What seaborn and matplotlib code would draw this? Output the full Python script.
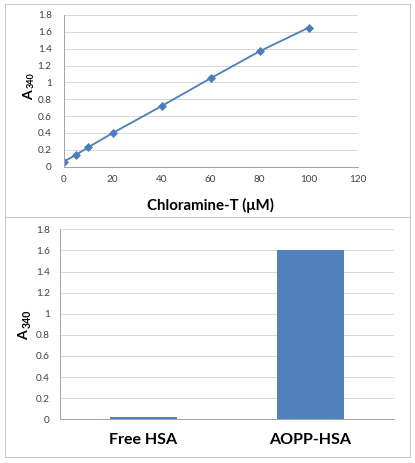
import matplotlib
matplotlib.use("Agg")
import matplotlib.pyplot as plt
import seaborn as sns
import pandas as pd
from matplotlib.patches import Rectangle
from matplotlib.lines import Line2D
from matplotlib.transforms import Affine2D

# ---- data ----
chloramine_t = [0, 5, 10, 20, 40, 60, 80, 100]
a340_curve = [0.06, 0.14, 0.23, 0.40, 0.72, 1.05, 1.37, 1.65]
categories = ["Free HSA", "AOPP-HSA"]
a340_bars = [0.025, 1.60]
y_ticks = [0, 0.2, 0.4, 0.6, 0.8, 1, 1.2, 1.4, 1.6, 1.8]
y_tick_labels = ["0", "0.2", "0.4", "0.6", "0.8", "1", "1.2", "1.4", "1.6", "1.8"]
x_ticks = [0, 20, 40, 60, 80, 100, 120]

sns.set_theme(style="white")
plt.rcParams['font.family'] = ['Lato', 'DejaVu Sans']

W, H = 415, 463
DPI = 72
fig = plt.figure(figsize=(W / DPI, H / DPI), dpi=DPI)
fig.patch.set_facecolor("white")
pix = Affine2D().scale(1, -1).translate(0, H)  # pixel coords, origin top-left

def fx(px):
    return px / W

def fy(py):
    return 1 - py / H

# frame
border = "#C8C8C8"
fig.add_artist(Rectangle((fx(5), fy(457)), fx(405), (457 - 4) / H, transform=fig.transFigure,
                         fill=False, edgecolor=border, linewidth=1))
fig.add_artist(Line2D([fx(5), fx(410)], [fy(217), fy(217)], transform=fig.transFigure,
                      color=border, linewidth=1))

grid_c = "#D9D9D9"
axis_c = "#A6A6A6"
tick_txt = "#404040"
line_c = "#4A7EBB"
bar_c = "#4F81BD"

def a340_label(xa, ya, xs, ys, fa, fs):
    kw = dict(transform=pix, rotation=90, rotation_mode="anchor", ha="left",
              va="baseline", fontweight="bold", color="black", family="Lato")
    fig.text(xa, ya, "A", fontsize=fa, **kw)
    fig.text(xs, ys, "340", fontsize=fs, **kw)

# ---- top chart ----
ax1 = fig.add_axes([fx(63.7), fy(166.7), fx(357.7 - 63.7), (166.7 - 15) / H])
df1 = pd.DataFrame({"x": chloramine_t, "y": a340_curve})
sns.lineplot(data=df1, x="x", y="y", ax=ax1, color=line_c, linewidth=1.8,
             marker="D", markersize=5.5, markeredgecolor=line_c, markerfacecolor=line_c)
ax1.set_xlim(0, 120)
ax1.set_ylim(0, 1.8)
ax1.set_xticks(x_ticks)
ax1.set_yticks(y_ticks)
ax1.set_yticklabels(y_tick_labels)
ax1.grid(axis="y", color=grid_c, linewidth=1)
ax1.set_axisbelow(True)
for s in ["top", "right"]:
    ax1.spines[s].set_visible(False)
for s in ["left", "bottom"]:
    ax1.spines[s].set_color(axis_c)
    ax1.spines[s].set_linewidth(1)
ax1.tick_params(axis="both", which="major", direction="out", length=4, width=1,
                color=axis_c, labelsize=10, labelcolor=tick_txt)
ax1.tick_params(axis="y", pad=8)
ax1.tick_params(axis="x", pad=4)
ax1.set_xlabel("Chloramine-T (μM)", fontsize=15, fontweight="bold", color="black")
ax1.xaxis.set_label_coords(0.5, -0.206)
ax1.set_ylabel("")
a340_label(32.7, 99.5, 33.7, 87.5, 14, 9)

# ---- bottom chart ----
ax2 = fig.add_axes([fx(60), fy(419.3), fx(394 - 60), (419.3 - 229.3) / H])
df2 = pd.DataFrame({"cat": categories, "val": a340_bars})
sns.barplot(data=df2, x="cat", y="val", ax=ax2, color=bar_c, width=0.4,
            saturation=1, edgecolor="none")
ax2.set_xlim(-0.5, 1.5)
ax2.set_ylim(0, 1.8)
ax2.set_yticks(y_ticks)
ax2.set_yticklabels(y_tick_labels)
ax2.grid(axis="y", color=grid_c, linewidth=1)
ax2.set_axisbelow(True)
for s in ["top", "right"]:
    ax2.spines[s].set_visible(False)
for s in ["left", "bottom"]:
    ax2.spines[s].set_color(axis_c)
    ax2.spines[s].set_linewidth(1)
ax2.set_xticks([-0.5, 0.5, 1.5], minor=True)
ax2.tick_params(axis="x", which="minor", direction="out", length=5, width=1, color=axis_c)
ax2.tick_params(axis="x", which="major", length=0, pad=14, labelsize=16, labelcolor="black")
for lbl in ax2.get_xticklabels():
    lbl.set_fontweight("bold")
ax2.tick_params(axis="y", direction="out", length=4, width=1, color=axis_c,
                labelsize=10, labelcolor=tick_txt, pad=6)
ax2.set_xlabel("")
ax2.set_ylabel("")
a340_label(28.3, 340.5, 30.3, 328, 14, 10.5)

fig.savefig("out.png", dpi=DPI, facecolor="white")
